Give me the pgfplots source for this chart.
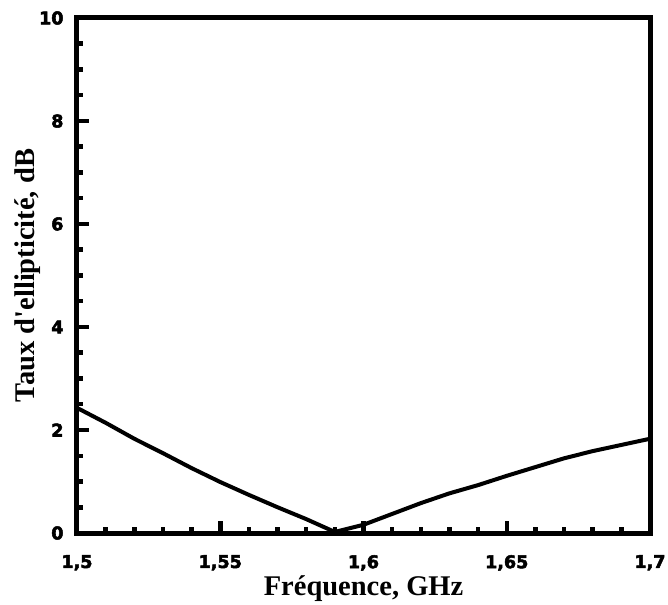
\documentclass[border=0pt]{standalone}
\usepackage{fontspec}
\setmainfont{Liberation Serif}
\newfontfamily\tickfont{DejaVu Sans}[BoldFeatures={FakeBold=3}]
\usepackage{pgfplots}
\pgfplotsset{compat=1.18}
\begin{document}
\begin{tikzpicture}
\useasboundingbox (-77pt,-71pt) rectangle (591pt,533pt);
\begin{axis}[
  at={(0,0)}, anchor=south west,
  scale only axis,
  width=573pt, height=515pt,
  xmin=1.5, xmax=1.7, ymin=0, ymax=10,
  xtick={1.5,1.55,1.6,1.65,1.7},
  xticklabels={{1,5},{1,55},{1,6},{1,65},{1,7}},
  minor x tick num=4,
  ytick={0,2,4,6,8,10},
  yticklabels={0,2,4,6,8,10},
  minor y tick num=3,
  tick pos=left,
  tick align=inside,
  major tick length=12pt,
  minor tick length=6pt,
  every tick/.style={line width=4.5pt, black},
  axis line style={line width=5pt},
  ticklabel style={font=\tickfont\bfseries\fontsize{17.5}{20}\selectfont},
  xticklabel style={inner sep=0pt, anchor=north, yshift=-22pt},
  yticklabel style={xshift=-10pt},
  xlabel={Fréquence, GHz},
  ylabel={Taux d\textquotesingle ellipticité, dB},
  label style={font=\bfseries\fontsize{28.5}{32}\selectfont},
  xlabel style={at={(axis description cs:0.5,0)}, anchor=base, inner sep=0pt, yshift=-62pt},
  ylabel style={at={(axis description cs:-0.0733,0.5)}, anchor=base},
]
\addplot[black, line width=4pt, line join=round] coordinates {
(1.50,2.43) (1.51,2.14) (1.52,1.83) (1.53,1.55) (1.54,1.26) (1.55,0.99)
(1.56,0.74) (1.57,0.50) (1.58,0.27) (1.59,0.02) (1.60,0.16) (1.61,0.37)
(1.62,0.58) (1.63,0.77) (1.64,0.93) (1.65,1.11) (1.66,1.28) (1.67,1.45)
(1.68,1.59) (1.69,1.71) (1.70,1.83)
};
\end{axis}
\end{tikzpicture}
\end{document}
